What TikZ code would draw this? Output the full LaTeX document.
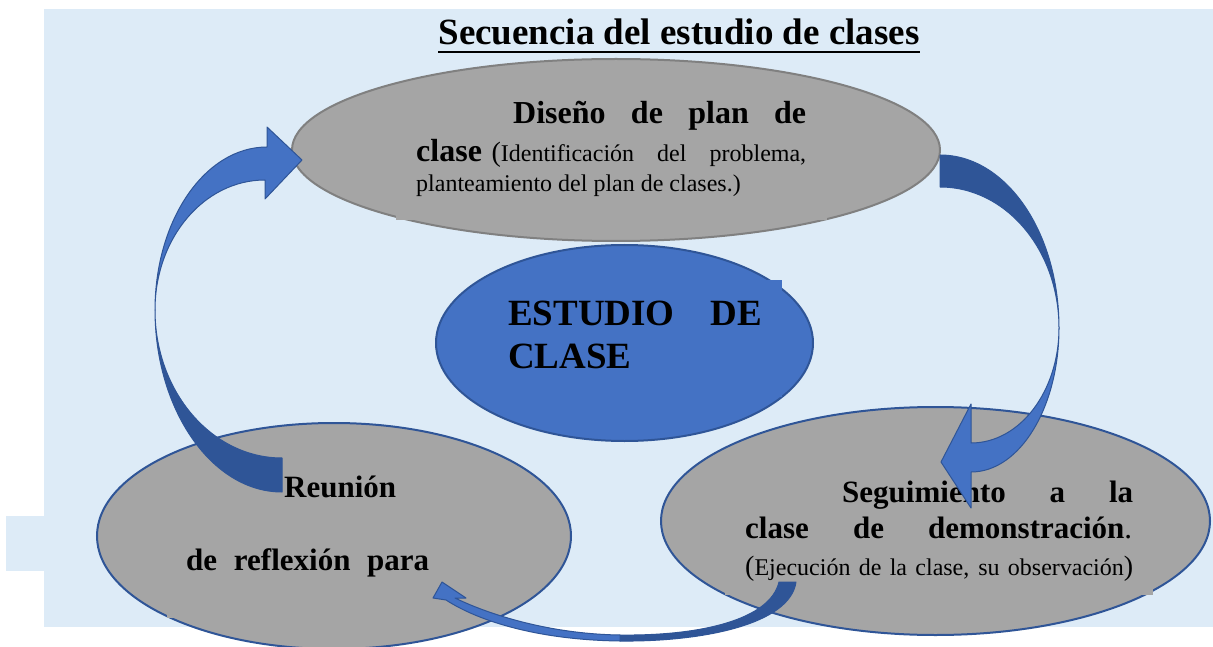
\documentclass[tikz,border=0pt]{standalone}
\usepackage{fontspec}
\setmainfont{Liberation Serif}
\usetikzlibrary{shapes.geometric}
\definecolor{bgblue}{HTML}{DDEBF7}
\definecolor{ellgray}{HTML}{A5A5A5}
\definecolor{topborder}{HTML}{808080}
\definecolor{accblue}{HTML}{4472C4}
\definecolor{darkblue}{HTML}{2F5597}
\tikzset{
  ell/.style={ellipse, inner sep=0pt, line width=2pt},
  txt/.style={anchor=base west, inner sep=0pt, text=black},
  arrlight/.style={fill=accblue, draw=darkblue, line width=1pt, line join=round},
  arrdark/.style={fill=darkblue, draw=darkblue, line width=1pt, line join=round},
}
\newcommand{\fs}[2]{\fontsize{#1}{#2}\selectfont}
\begin{document}
\begin{tikzpicture}[x=1pt,y=-1pt]
\useasboundingbox (0,0) rectangle (1213,647);
\fill[white] (0,0) rectangle (1213,647);
% backgrounds
\fill[bgblue] (44,9) rectangle (1213,627);
\fill[bgblue] (6,516) rectangle (44,571);
% ellipses
\node[ell, fill=ellgray, draw=topborder, minimum width=648pt, minimum height=182pt] (top) at (616,150) {};
\fill[ellgray] (396,100) rectangle (827,220);
\node[ell, fill=accblue, draw=darkblue, minimum width=377pt, minimum height=196pt] (mid) at (624.5,343) {};
\fill[accblue] (500,280) rectangle (782,397);
\node[ell, fill=ellgray, draw=darkblue, minimum width=474pt, minimum height=226pt] (bl) at (334,536) {};
\fill[ellgray] (167,470) rectangle (500,618);
\node[ell, fill=ellgray, draw=darkblue, minimum width=549pt, minimum height=228pt] (br) at (935.5,521) {};
\fill[ellgray] (725,470) rectangle (1153,595);
% title
\node[anchor=base, inner sep=0pt] (title) at (679,45) {\fs{37}{44}\bfseries Secuencia del estudio de clases};
\draw[line width=2.6pt] ([yshift=-7pt]title.base west) -- ([yshift=-7pt]title.base east);
% top ellipse text
\node[txt] (t1) at (513,124) {\makebox[293pt][s]{\fs{32}{38}\bfseries Diseño de plan de}};
\node[txt] (t2) at (416,162) {\makebox[390pt][s]{{\fs{32}{38}\bfseries clase} {\fs{28}{30}(}{\fs{24}{28}Identificación del problema,}}};
\node[txt] (t3) at (416,192) {\fs{24}{28}planteamiento del plan de clases.)};
% centre text
\node[txt] (c1) at (508,325) {\makebox[254pt][s]{\fs{37}{44}\bfseries ESTUDIO DE}};
\node[txt] (c2) at (508,368) {\fs{37}{44}\bfseries CLASE};
% bottom left text
\node[txt] (l1) at (284,497) {\fs{31}{36}\bfseries Reunión};
\node[txt] (l2) at (186,570) {\makebox[243pt][s]{\fs{31}{36}\bfseries de reflexión para}};
% bottom right text
\node[txt] (r1) at (842,502) {\makebox[291pt][s]{\fs{31}{36}\bfseries Seguimiento a la}};
\node[txt] (r2) at (745,538) {\makebox[387pt][s]{\fs{31}{36}\bfseries clase de demonstración{\mdseries.}}};
\node[txt] (r3) at (745,575) {\makebox[388pt][s]{{\fs{28}{30}(}{\fs{24}{28}Ejecución de la clase, su observación}{\fs{28}{30})}}};
% left curved arrow
\path[arrlight] (155,310) .. controls (155,220) and (205,147) .. (267,147) -- (267,127) -- (302,160) -- (265,199) -- (265,180) .. controls (204,180) and (155,238) .. (155,310) -- cycle;
\path[arrdark] (155,310) .. controls (155,410) and (212,492) .. (282,492) -- (282,458) .. controls (212,458) and (155,392) .. (155,310) -- cycle;
% right curved arrow
\path[arrdark] (940,155) .. controls (1006,155) and (1059,232) .. (1059,328) .. controls (1059,250) and (1006,187) .. (940,187) -- cycle;
\path[arrlight] (1059,328) .. controls (1059,407) and (1020,472) .. (971,472) -- (971,508) -- (941,462) -- (971,404) -- (971,443) .. controls (1020,443) and (1059,391) .. (1059,328) -- cycle;
% bottom curved arrow
\path[arrdark] (620,641) .. controls (700,642) and (790,625) .. (796,582) -- (779,582) .. controls (770,620) and (700,636) .. (620,635) -- cycle;
\path[arrlight] (620,641) .. controls (540,640) and (480,622) .. (446,600) -- (433,598) -- (442,582) -- (466,598) -- (455,598) .. controls (490,615) and (550,634) .. (620,635) -- cycle;
\end{tikzpicture}
\end{document}
